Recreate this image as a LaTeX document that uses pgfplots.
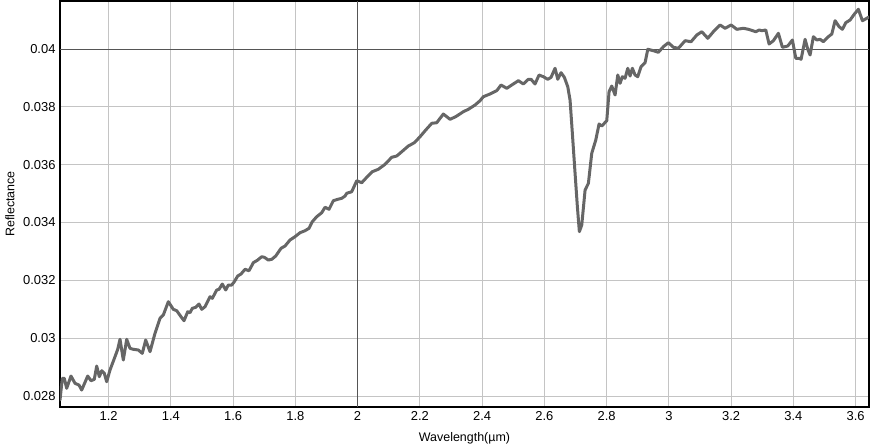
\documentclass[border=0pt]{standalone}
\usepackage{pgfplots}
\pgfplotsset{compat=1.18}
\usepackage{fontspec}
\setmainfont{Liberation Sans}
\definecolor{curve}{HTML}{666666}
\definecolor{gridc}{HTML}{C4C4C4}
\definecolor{darkgrid}{HTML}{555555}
\begin{document}
\begin{tikzpicture}
\useasboundingbox (0,0) rectangle (871bp,448bp);
\begin{axis}[
  at={(60bp,41bp)}, anchor=south west,
  scale only axis, width=809bp, height=406bp,
  xmin=1.044, xmax=3.643, ymin=0.02762, ymax=0.04166,
  xtick={1.2,1.4,1.6,1.8,2.0,2.2,2.4,2.6,2.8,3.0,3.2,3.4,3.6},
  xticklabels={1.2,1.4,1.6,1.8,2,2.2,2.4,2.6,2.8,3,3.2,3.4,3.6},
  ytick={0.028,0.030,0.032,0.034,0.036,0.038,0.040},
  yticklabels={0.028,0.03,0.032,0.034,0.036,0.038,0.04},
  scaled x ticks=false, scaled y ticks=false,
  /pgf/number format/assume math mode=true,
  major tick length=0pt,
  grid=major,
  major grid style={gridc, line width=0.8bp},
  extra x ticks={2}, extra x tick labels={},
  extra y ticks={0.04}, extra y tick labels={},
  extra tick style={grid=major, major grid style={darkgrid, line width=0.8bp}},
  axis line style={black, line width=1.5bp},
  tick label style={font=\fontsize{13}{15}\selectfont},
  xticklabel style={yshift=-1bp},
  yticklabel style={xshift=-1bp},
  xlabel={Wavelength(µm)},
  ylabel={Reflectance},
  label style={font=\fontsize{12.5}{15}\selectfont},
  xlabel style={at={(axis description cs:0.5,-0.0764)}, anchor=center},
  ylabel style={at={(axis description cs:-0.0618,0.5)}, anchor=center},
  clip=true,
]
\addplot[curve, line width=3bp, line join=round, line cap=round] coordinates {
(1.0440,0.027861) (1.0514,0.028612) (1.0578,0.028612) (1.0655,0.028266)
(1.0793,0.028691) (1.0922,0.028439) (1.1050,0.028380) (1.1137,0.028207)
(1.1330,0.028691) (1.1436,0.028529) (1.1542,0.028577) (1.1619,0.029037)
(1.1703,0.028667) (1.1780,0.028875) (1.1863,0.028785) (1.1940,0.028494)
(1.2046,0.028899) (1.2207,0.029359) (1.2294,0.029615) (1.2368,0.029961)
(1.2474,0.029245) (1.2583,0.029961) (1.2689,0.029649) (1.2795,0.029615)
(1.2956,0.029591) (1.3084,0.029476) (1.3193,0.029936) (1.3332,0.029532)
(1.3492,0.030168) (1.3653,0.030687) (1.3759,0.030801) (1.3920,0.031261)
(1.4080,0.030998) (1.4189,0.030950) (1.4328,0.030742) (1.4424,0.030604)
(1.4543,0.030915) (1.4617,0.030881) (1.4691,0.031033) (1.4800,0.031067)
(1.4906,0.031181) (1.4993,0.030998) (1.5099,0.031088)
(1.5259,0.031434) (1.5333,0.031378) (1.5475,0.031666) (1.5549,0.031690)
(1.5654,0.031873) (1.5764,0.031666) (1.5847,0.031838) (1.5957,0.031838)
(1.6040,0.031953) (1.6149,0.032150) (1.6255,0.032219) (1.6384,0.032381)
(1.6512,0.032333) (1.6651,0.032610) (1.6792,0.032703) (1.6920,0.032817)
(1.7004,0.032796) (1.7133,0.032703) (1.7242,0.032727) (1.7370,0.032841)
(1.7541,0.033108) (1.7669,0.033187) (1.7830,0.033395) (1.7990,0.033509)
(1.8151,0.033647) (1.8312,0.033716) (1.8440,0.033799) (1.8546,0.034028)
(1.8687,0.034200) (1.8848,0.034339) (1.8954,0.034526) (1.9083,0.034456)
(1.9221,0.034754) (1.9362,0.034802) (1.9491,0.034837) (1.9597,0.034916)
(1.9651,0.035010) (1.9812,0.035065) (1.9973,0.035445) (2.0133,0.035376)
(2.0294,0.035563) (2.0474,0.035757) (2.0667,0.035840) (2.0882,0.036013)
(2.1097,0.036255) (2.1258,0.036300) (2.1419,0.036448) (2.1631,0.036645)
(2.1824,0.036760) (2.2007,0.036967) (2.2190,0.037199) (2.2383,0.037430)
(2.2543,0.037451) (2.2755,0.037752) (2.2970,0.037569) (2.3153,0.037659)
(2.3398,0.037832) (2.3559,0.037915) (2.3774,0.038063) (2.3934,0.038212)
(2.4040,0.038350) (2.4255,0.038444) (2.4470,0.038558) (2.4609,0.038755)
(2.4792,0.038641) (2.4953,0.038755) (2.5165,0.038904) (2.5325,0.038790)
(2.5486,0.038952) (2.5573,0.038952) (2.5701,0.038790) (2.5830,0.039101)
(2.5968,0.039042) (2.6110,0.038952) (2.6216,0.039021) (2.6344,0.039333)
(2.6431,0.038952) (2.6537,0.039180) (2.6643,0.039021) (2.6752,0.038696)
(2.6826,0.038236) (2.6900,0.037085) (2.6987,0.035701) (2.7061,0.034546)
(2.7125,0.033682) (2.7202,0.033913) (2.7309,0.035124) (2.7415,0.035355)
(2.7523,0.036393) (2.7652,0.036853) (2.7758,0.037406) (2.7845,0.037337)
(2.8005,0.037520) (2.8079,0.038523) (2.8166,0.038720) (2.8272,0.038409)
(2.8359,0.039101) (2.8433,0.038814) (2.8507,0.039042) (2.8593,0.038987)
(2.8680,0.039333) (2.8754,0.039066) (2.8828,0.039333) (2.8914,0.039101)
(2.9001,0.039042) (2.9107,0.039388) (2.9236,0.039526) (2.9323,0.039990)
(2.9503,0.039941) (2.9663,0.039886) (2.9824,0.040080) (2.9985,0.040218)
(3.0146,0.040059) (3.0306,0.040024) (3.0522,0.040287) (3.0714,0.040252)
(3.0898,0.040484) (3.1058,0.040598) (3.1251,0.040370) (3.1431,0.040598)
(3.1646,0.040830) (3.1807,0.040716) (3.2000,0.040830) (3.2183,0.040681)
(3.2395,0.040716) (3.2555,0.040681) (3.2793,0.040598) (3.2899,0.040657)
(3.2986,0.040633) (3.3114,0.040657) (3.3220,0.040173) (3.3358,0.040287)
(3.3519,0.040543) (3.3648,0.040059) (3.3821,0.040104) (3.3969,0.040311)
(3.4078,0.039678) (3.4184,0.039678) (3.4248,0.039644) (3.4377,0.040335)
(3.4463,0.039990) (3.4537,0.039793) (3.4643,0.040425) (3.4752,0.040311)
(3.4858,0.040335) (3.4965,0.040252) (3.5125,0.040425) (3.5235,0.040519)
(3.5341,0.040979) (3.5469,0.040771) (3.5575,0.040681) (3.5685,0.040910)
(3.5823,0.041003) (3.5961,0.041210) (3.6090,0.041373) (3.6218,0.040979)
(3.6360,0.041062) (3.6430,0.041110)
};
\end{axis}
\end{tikzpicture}
\end{document}
